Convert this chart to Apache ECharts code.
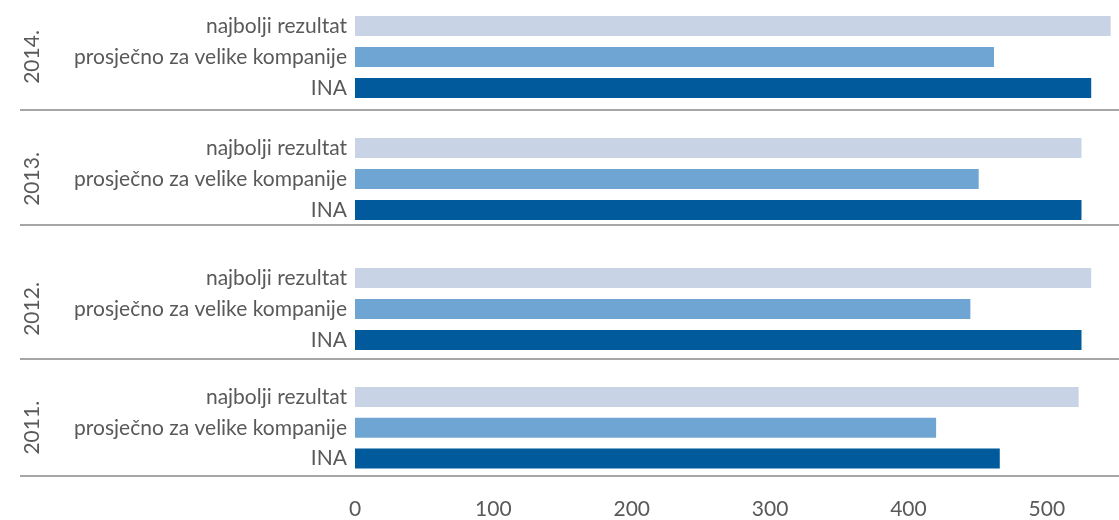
<!DOCTYPE html>
<html>
<head>
<meta charset="utf-8">
<script src="https://cdn.jsdelivr.net/npm/echarts@6/dist/echarts.min.js"></script>
<style>
html,body{margin:0;padding:0;background:#fff;}
#chart{width:1119px;height:520px;}
</style>
</head>
<body>
<div id="chart"></div>
<script>
// ---- data ----
var years = ['2014.', '2013.', '2012.', '2011.'];
var categories = ['najbolji rezultat', 'prosječno za velike kompanije', 'INA'];
var bestResult = [544, 523, 530, 523];
var largeCompanyAvg = [460, 449, 443, 420];
var inaValues = [530, 523, 523, 466];
var xTicks = [0, 100, 200, 300, 400, 500];

// ---- layout / style ----
var barColors = ['#c8d4e6', '#6fa5d2', '#005a9b'];
var textColor = '#595959';
var fontFamily = 'Lato, "Open Sans", sans-serif';
var fontSize = 21;
var gridTops = [10.5, 132.5, 262.5, 381.5];
var gridHeight = 93;
var separatorY = [110, 225, 359, 476];

var chart = echarts.init(document.getElementById('chart'));

var grids = [], xAxes = [], yAxes = [], series = [];
years.forEach(function (yr, i) {
  grids.push({ left: 355, right: 0, top: gridTops[i], height: gridHeight });
  var isLast = i === years.length - 1;
  xAxes.push({
    type: 'value', gridIndex: i, min: 0, max: 550, interval: 100,
    show: isLast,
    axisLine: { show: false }, axisTick: { show: false }, splitLine: { show: false },
    axisLabel: {
      show: isLast, color: textColor, fontSize: fontSize, fontFamily: fontFamily, margin: 25,
      formatter: function (v) { return xTicks.indexOf(v) >= 0 ? String(v) : ''; }
    }
  });
  yAxes.push({
    type: 'category', gridIndex: i, inverse: true, data: categories,
    axisLine: { show: false }, axisTick: { show: false },
    axisLabel: { color: textColor, fontSize: fontSize, fontFamily: fontFamily, margin: 8 },
    name: yr, nameLocation: 'middle', nameRotate: 90, nameGap: 312,
    nameTextStyle: { color: textColor, fontSize: fontSize, fontFamily: fontFamily }
  });
  var vals = [bestResult[i], largeCompanyAvg[i], inaValues[i]];
  series.push({
    type: 'bar', xAxisIndex: i, yAxisIndex: i, barWidth: 20,
    silent: true, animation: false,
    data: vals.map(function (v, k) { return { value: v, itemStyle: { color: barColors[k] } }; })
  });
});

var graphics = separatorY.map(function (y) {
  return { type: 'line', shape: { x1: 20, y1: y, x2: 1119, y2: y },
           style: { stroke: '#a6a6a6', lineWidth: 2 }, silent: true };
});

chart.setOption({
  animation: false,
  grid: grids, xAxis: xAxes, yAxis: yAxes, series: series,
  graphic: graphics
});
</script>
</body>
</html>
